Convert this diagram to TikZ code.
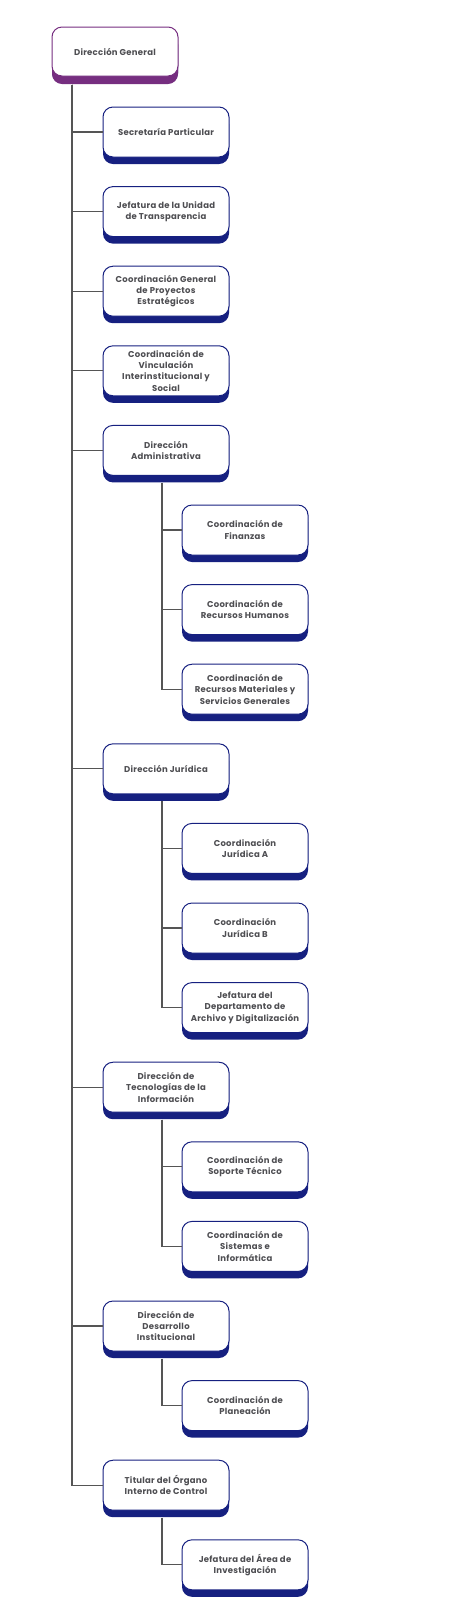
\documentclass[tikz,border=0pt]{standalone}
\usepackage{fontspec}
\setmainfont{Poppins}[LetterSpace=3]
\usepackage{xcolor}
\usetikzlibrary{positioning,shadows}

\definecolor{navyblue}{RGB}{22,32,128}
\definecolor{plum}{RGB}{118,46,128}
\definecolor{ink}{RGB}{78,78,82}
\definecolor{wire}{RGB}{85,85,85}

\begin{document}
\begin{tikzpicture}[x=1pt,y=-1pt,
  box/.style={rectangle,rounded corners=10pt,draw=navyblue,line width=1pt,fill=white,
    minimum width=126pt,minimum height=50pt,inner sep=2pt,align=center,text=ink,
    font=\bfseries\fontsize{8.5}{11.3}\selectfont,
    general shadow={fill=navyblue,shadow yshift=-7pt}},
  topbox/.style={box,draw=plum,minimum height=49pt,general shadow={fill=plum,shadow yshift=-8pt}},
  conn/.style={draw=wire,line width=1.3pt}]
\useasboundingbox (0,0) rectangle (474,1618);
% head
\node[topbox] (dg) at (115,51.5) {Dirección General};
% first level
\node[box] (sp) at (166,132) {Secretaría Particular};
\node[box] (jut) at (166,211.6) {Jefatura de la Unidad\\de Transparencia};
\node[box] (cgpe) at (166,291.2) {Coordinación General\\de Proyectos\\Estratégicos};
\node[box] (cvis) at (166,370.8) {Coordinación de\\Vinculación\\Interinstitucional y\\Social};
\node[box] (da) at (166,450.4) {Dirección\\Administrativa};
\node[box] (dj) at (166,768.8) {Dirección Jurídica};
\node[box] (dti) at (166,1087.2) {Dirección de\\Tecnologías de la\\Información};
\node[box] (ddi) at (166,1326) {Dirección de\\Desarrollo\\Institucional};
\node[box] (toic) at (166,1485.2) {Titular del Órgano\\Interno de Control};
% second level
\node[box] (cf) at (245,530) {Coordinación de\\Finanzas};
\node[box] (crh) at (245,609.6) {Coordinación de\\Recursos Humanos};
\node[box] (crm) at (245,689.2) {Coordinación de\\Recursos Materiales y\\Servicios Generales};
\node[box] (cja) at (245,848.4) {Coordinación\\Jurídica A};
\node[box] (cjb) at (245,928) {Coordinación\\Jurídica B};
\node[box] (jad) at (245,1007.6) {Jefatura del\\Departamento de\\Archivo y Digitalización};
\node[box] (cst) at (245,1166.8) {Coordinación de\\Soporte Técnico};
\node[box] (csi) at (245,1246.4) {Coordinación de\\Sistemas e\\Informática};
\node[box] (cp) at (245,1405.6) {Coordinación de\\Planeación};
\node[box] (jai) at (245,1564.8) {Jefatura del Área de\\Investigación};
% connectors
\foreach \c in {sp,jut,cgpe,cvis,da,dj,dti,ddi,toic}
  \draw[conn] ([xshift=-43pt,yshift=-8pt]dg.south) |- (\c.west);
\foreach \p/\c in {da/cf,da/crh,da/crm,dj/cja,dj/cjb,dj/jad,dti/cst,dti/csi,ddi/cp,toic/jai}
  \draw[conn] ([xshift=-4pt,yshift=-7pt]\p.south) |- (\c.west);
\end{tikzpicture}
\end{document}
